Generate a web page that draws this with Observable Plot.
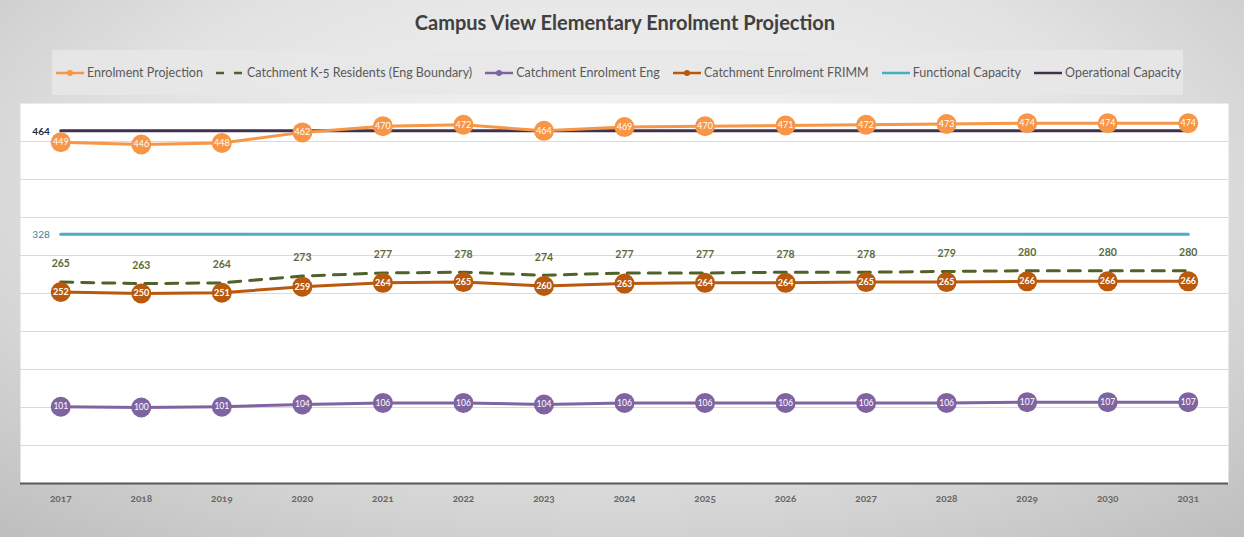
<!DOCTYPE html>
<html><head><meta charset="utf-8">
<script src="https://cdn.jsdelivr.net/npm/d3@7"></script>
<script src="https://cdn.jsdelivr.net/npm/@observablehq/plot@0.6"></script>
<style>
body{margin:0;}
#page{width:1244px;height:537px;position:relative;overflow:hidden;
  background: radial-gradient(ellipse 75% 85% at 50% 35%, #f8f8f8 0%, #e2e2e2 55%, #bfbfbf 100%);
  font-family: Lato, "Open Sans", sans-serif; font-variant-numeric: oldstyle-nums;}
#title{position:absolute;top:10px;left:0;width:1250px;text-align:center;font-size:20px;font-weight:bold;color:#404040;}
#legend{position:absolute;left:52px;top:50px;width:1131px;height:45px;background:rgba(232,232,232,0.85);box-sizing:border-box;padding:0 2px 0 3px;
  display:flex;align-items:center;justify-content:space-between;font-size:12.5px;color:#595959;white-space:nowrap;}
.item{display:flex;align-items:center;}
.item svg{margin-right:2px;}
#chart{position:absolute;left:0;top:100px;}
</style></head>
<body>
<div id="page">
  <div id="title">Campus View Elementary Enrolment Projection</div>
  <div id="legend"></div>
  <div id="chart"></div>
</div>
<script>
const years = [2017,2018,2019,2020,2021,2022,2023,2024,2025,2026,2027,2028,2029,2030,2031];
const enrolmentProjection = [449,446,448,462,470,472,464,469,470,471,472,473,474,474,474];
const k5Residents = [265,263,264,273,277,278,274,277,277,278,278,279,280,280,280];
const enrolmentEng = [101,100,101,104,106,106,104,106,106,106,106,106,107,107,107];
const enrolmentFRIMM = [252,250,251,259,264,265,260,263,264,264,265,265,266,266,266];
const functionalCapacity = 328;
const operationalCapacity = 464;
const gridValues = [50,100,150,200,250,300,350,400,450];

const seriesNames = ["Enrolment Projection","Catchment K-5 Residents (Eng Boundary)","Catchment Enrolment Eng","Catchment Enrolment FRIMM","Functional Capacity","Operational Capacity"];
const colors = {
  "Enrolment Projection":"#F79646",
  "Catchment K-5 Residents (Eng Boundary)":"#4F6228",
  "Catchment Enrolment Eng":"#8064A2",
  "Catchment Enrolment FRIMM":"#B9590E",
  "Functional Capacity":"#4BACC6",
  "Operational Capacity":"#403152"
};

const rows = (vals) => years.map((y,i)=>({year:String(y), value: Array.isArray(vals)? vals[i] : vals}));
const proj = rows(enrolmentProjection);
const k5 = rows(k5Residents);
const eng = rows(enrolmentEng);
const frimm = rows(enrolmentFRIMM);
const func = rows(functionalCapacity);
const oper = rows(operationalCapacity);

// Legend
const leg = document.getElementById("legend");
const legendStyle = {
  "Enrolment Projection":{dash:null,marker:true},
  "Catchment K-5 Residents (Eng Boundary)":{dash:"8 10",marker:false},
  "Catchment Enrolment Eng":{dash:null,marker:true},
  "Catchment Enrolment FRIMM":{dash:null,marker:true},
  "Functional Capacity":{dash:null,marker:false},
  "Operational Capacity":{dash:null,marker:false}
};
for (const s of seriesNames) {
  const st = legendStyle[s];
  const d = document.createElement("div"); d.className="item";
  d.innerHTML = `<svg width="30" height="10"><line x1="1" x2="29" y1="5" y2="5" stroke="${colors[s]}" stroke-width="2.5" ${st.dash?`stroke-dasharray="${st.dash}"`:""}/>${st.marker?`<circle cx="15" cy="5" r="3" fill="${colors[s]}"/>`:""}</svg><span>${s}</span>`;
  leg.appendChild(d);
}

const font = "Lato, 'Open Sans', sans-serif";
const chart = Plot.plot({
  width: 1244, height: 437,
  marginLeft: 20, marginRight: 16, marginTop: 3, marginBottom: 54,
  style: {background:"transparent", fontFamily: font, fontVariantNumeric:"oldstyle-nums"},
  x: {type:"point", domain: years.map(String), padding: 0.5, round: false},
  y: {domain:[0,500], axis:null},
  marks: [
    Plot.frame({fill:"white", stroke:null}),
    Plot.ruleY(gridValues, {stroke:"#d9d9d9", strokeWidth:1}),
    Plot.ruleY([0], {stroke:"#595959", strokeWidth:2}),
    Plot.axisX({tickSize:0, tickPadding:11, fontSize:10, fontWeight:"bold", fill:"#666", label:null}),
    // capacities
    Plot.lineY(oper, {x:"year", y:"value", stroke:colors["Operational Capacity"], strokeWidth:3}),
    Plot.lineY(func, {x:"year", y:"value", stroke:colors["Functional Capacity"], strokeWidth:3}),
    Plot.text(oper.slice(0,1), {x:"year", y:"value", text:"value", dx:-11, dy:1, textAnchor:"end", fontSize:10, fontWeight:"bold", fill:"#1F2D3D"}),
    Plot.text(func.slice(0,1), {x:"year", y:"value", text:"value", dx:-11, dy:1, textAnchor:"end", fontSize:10, fill:"#31849B"}),
    // K-5 residents dashed
    Plot.lineY(k5, {x:"year", y:"value", stroke:colors["Catchment K-5 Residents (Eng Boundary)"], strokeWidth:3, strokeDasharray:"12 9"}),
    Plot.text(k5, {x:"year", y:"value", text:"value", dy:-18, fontSize:10.5, fontWeight:"bold", fill:"#5a6b3a"}),
    // FRIMM
    Plot.lineY(frimm, {x:"year", y:"value", stroke:colors["Catchment Enrolment FRIMM"], strokeWidth:3}),
    Plot.dot(frimm, {x:"year", y:"value", r:10, fill:colors["Catchment Enrolment FRIMM"]}),
    Plot.text(frimm, {x:"year", y:"value", text:"value", fontSize:9, fontWeight:"bold", fill:"white"}),
    // Eng
    Plot.lineY(eng, {x:"year", y:"value", stroke:colors["Catchment Enrolment Eng"], strokeWidth:3}),
    Plot.dot(eng, {x:"year", y:"value", r:10, fill:colors["Catchment Enrolment Eng"]}),
    Plot.text(eng, {x:"year", y:"value", text:"value", fontSize:8.5, fill:"white"}),
    // Projection
    Plot.lineY(proj, {x:"year", y:"value", stroke:colors["Enrolment Projection"], strokeWidth:3}),
    Plot.dot(proj, {x:"year", y:"value", r:10, fill:colors["Enrolment Projection"]}),
    Plot.text(proj, {x:"year", y:"value", text:"value", fontSize:9, fill:"white"})
  ]
});
document.getElementById("chart").appendChild(chart);
</script>
</body></html>
